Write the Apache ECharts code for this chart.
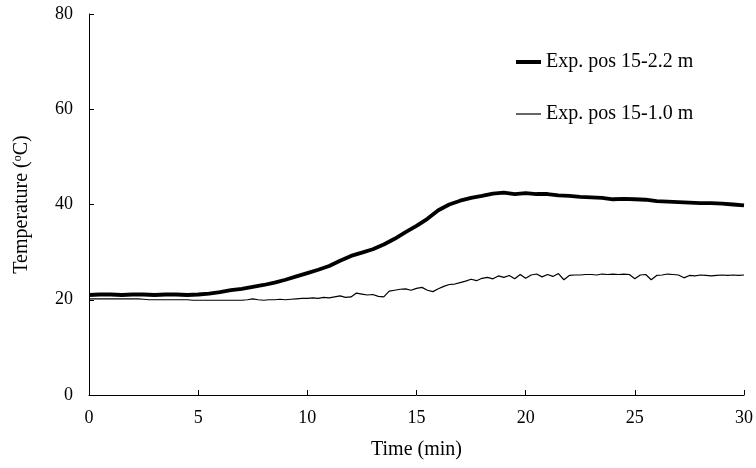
<!DOCTYPE html>
<html>
<head>
    <meta charset="UTF-8">
    <title>Temperature</title>
    <script src="https://cdn.jsdelivr.net/npm/echarts@6/dist/echarts.min.js"></script>
    <style>
        html, body { margin: 0; padding: 0; background: #fff; }
    </style>
</head>
<body>
    <div id="chart" style="width:756px; height:468px;"></div>

    <script>
        // series names
        var nameHigh = 'Exp. pos 15-2.2 m';
        var nameLow = 'Exp. pos 15-1.0 m';

        // 2.2 m sensor, every 0.5 min from 0 to 30
        var timeHigh = [0, 0.5, 1, 1.5, 2, 2.5, 3, 3.5, 4, 4.5, 5, 5.5, 6, 6.5, 7, 7.5, 8, 8.5, 9, 9.5,
            10, 10.5, 11, 11.5, 12, 12.5, 13, 13.5, 14, 14.5, 15, 15.5, 16, 16.5, 17, 17.5, 18, 18.5, 19, 19.5,
            20, 20.5, 21, 21.5, 22, 22.5, 23, 23.5, 24, 24.5, 25, 25.5, 26, 26.5, 27, 27.5, 28, 28.5, 29, 29.5, 30];
        var tempHigh = [21.0, 21.1, 21.1, 21.0, 21.1, 21.1, 21.0, 21.1, 21.1, 21.0, 21.1, 21.3, 21.6, 22.0, 22.3, 22.7, 23.1, 23.6, 24.2, 24.9,
            25.6, 26.3, 27.1, 28.2, 29.2, 29.9, 30.6, 31.6, 32.8, 34.2, 35.5, 37.0, 38.8, 40.0, 40.8, 41.4, 41.8, 42.3, 42.5, 42.2,
            42.4, 42.2, 42.2, 41.9, 41.8, 41.6, 41.5, 41.4, 41.1, 41.2, 41.1, 41.0, 40.7, 40.6, 40.5, 40.4, 40.3, 40.3, 40.2, 40.0, 39.8];

        // 1.0 m sensor, every 0.25 min from 0 to 30
        var timeLow = [];
        for (var i = 0; i <= 120; i++) timeLow.push(i * 0.25);
        var tempLow = [20.2, 20.2, 20.2, 20.2, 20.2, 20.2, 20.2, 20.2, 20.2, 20.2, 20.1, 20.0, 20.0, 20.0, 20.0, 20.0,
            20.0, 20.0, 20.0, 19.9, 19.9, 19.9, 19.9, 19.9, 19.9, 19.9, 19.9, 19.9, 19.9, 20.0, 20.2, 20.0,
            19.9, 20.0, 20.0, 20.1, 20.0, 20.1, 20.2, 20.3, 20.3, 20.4, 20.3, 20.5, 20.4, 20.6, 20.8, 20.5,
            20.6, 21.4, 21.2, 21.0, 21.1, 20.7, 20.6, 21.8, 22.0, 22.2, 22.3, 22.0, 22.4, 22.6, 22.0, 21.7,
            22.3, 22.8, 23.2, 23.3, 23.6, 23.9, 24.3, 24.0, 24.5, 24.7, 24.4, 25.0, 24.7, 25.1, 24.4, 25.3,
            24.5, 25.2, 25.4, 24.8, 25.3, 24.9, 25.5, 24.2, 25.1, 25.2, 25.2, 25.3, 25.3, 25.2, 25.4, 25.3,
            25.4, 25.3, 25.4, 25.3, 24.4, 25.2, 25.3, 24.2, 25.1, 25.2, 25.4, 25.3, 25.2, 24.6, 25.1, 25.0,
            25.2, 25.1, 25.0, 25.1, 25.2, 25.1, 25.2, 25.1, 25.2];

        function pairs(xs, ys) {
            var out = [];
            for (var k = 0; k < xs.length; k++) out.push([xs[k], ys[k]]);
            return out;
        }

        var font = "'Liberation Serif', 'Times New Roman', serif";
        var legendText = { fontFamily: font, fontSize: 20, color: '#000' };

        var dom = document.getElementById('chart');
        var myChart = echarts.init(dom);

        var option = {
            animation: false,
            backgroundColor: '#fff',
            grid: { left: 89, right: 11, top: 14, bottom: 73 },
            // one legend per series so each key line gets its own thickness
            legend: [
                {
                    data: [nameHigh],
                    icon: 'rect',
                    left: 516,
                    top: 52,
                    padding: 0,
                    itemWidth: 25,
                    itemHeight: 4,
                    itemGap: 6,
                    textStyle: legendText
                },
                {
                    data: [nameLow],
                    icon: 'rect',
                    left: 516,
                    top: 104,
                    padding: 0,
                    itemWidth: 25,
                    itemHeight: 1.2,
                    itemGap: 6,
                    textStyle: legendText
                }
            ],
            xAxis: {
                type: 'value',
                min: 0,
                max: 30,
                interval: 5,
                name: 'Time (min)',
                nameLocation: 'middle',
                nameGap: 45,
                nameTextStyle: { fontFamily: font, fontSize: 20, color: '#000' },
                axisLine: { lineStyle: { color: '#000', width: 1 } },
                axisTick: { inside: true, length: 5, lineStyle: { color: '#000' } },
                axisLabel: { fontFamily: font, fontSize: 18, color: '#000', margin: 14 },
                splitLine: { show: false }
            },
            yAxis: {
                type: 'value',
                min: 0,
                max: 80,
                interval: 20,
                name: 'Temperature ({sup|o}C)',
                nameLocation: 'middle',
                nameGap: 57,
                nameRotate: 90,
                nameTextStyle: {
                    fontFamily: font, fontSize: 20, color: '#000',
                    rich: {
                        sup: { fontFamily: font, fontSize: 12, color: '#000', verticalAlign: 'top', padding: [0, 0, 8, 0] }
                    }
                },
                axisLine: { show: true, lineStyle: { color: '#000', width: 1 } },
                axisTick: { show: true, inside: true, length: 5, lineStyle: { color: '#000' } },
                axisLabel: { fontFamily: font, fontSize: 18, color: '#000', margin: 16 },
                splitLine: { show: false }
            },
            series: [
                {
                    name: nameHigh,
                    type: 'line',
                    symbol: 'none',
                    data: pairs(timeHigh, tempHigh),
                    lineStyle: { color: '#000', width: 3.8 },
                    itemStyle: { color: '#000' }
                },
                {
                    name: nameLow,
                    type: 'line',
                    symbol: 'none',
                    data: pairs(timeLow, tempLow),
                    lineStyle: { color: '#000', width: 1.2 },
                    itemStyle: { color: '#000' }
                }
            ]
        };

        myChart.setOption(option);
    </script>
</body>
</html>
